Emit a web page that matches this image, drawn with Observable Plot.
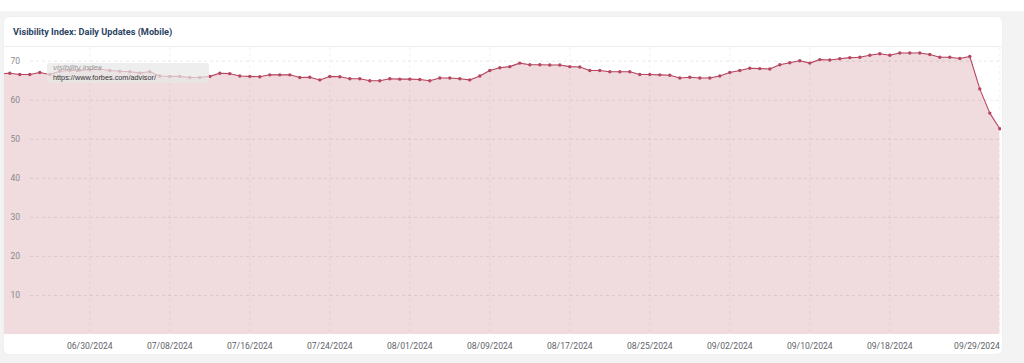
<!DOCTYPE html>
<html>
<head>
<meta charset="utf-8">
<script src="https://cdn.jsdelivr.net/npm/d3@7"></script>
<script src="https://cdn.jsdelivr.net/npm/@observablehq/plot@0.6"></script>
<style>
  html, body { margin: 0; padding: 0; width: 1024px; height: 363px; overflow: hidden; background: #ffffff; font-family: Roboto, "Noto Sans", sans-serif; }
  #page { position: absolute; left: 0; top: 11px; width: 1024px; height: 352px; background: #f3f3f4; }
  #card { position: absolute; left: 4px; top: 17px; width: 998px; height: 337px; background: #ffffff; border-radius: 5px; box-shadow: 0 0 2px rgba(0,0,0,0.06); }
  #title { position: absolute; left: 13px; top: 25px; font-size: 9.2px; font-weight: 700; color: #2d4463; line-height: 14px; white-space: nowrap; }
  #sep { position: absolute; left: 4px; top: 46px; width: 998px; height: 1px; background: #eeeeee; }
  #chart { position: absolute; left: 0; top: 0; }
  #legend { position: absolute; left: 47px; top: 63px; width: 162px; height: 20px; background: rgba(232,232,232,0.72); border-radius: 2px; }
  #legend .brand { position: absolute; left: 6px; top: 0px; font-size: 8px; font-style: italic; color: #9a9a9a; font-family: "Liberation Sans", Arial, sans-serif; }
  #legend .url { position: absolute; left: 6px; top: 10px; font-size: 7.3px; color: #333; font-family: "Liberation Sans", Arial, sans-serif; }
</style>
</head>
<body>
<div id="page"></div>
<div id="card"></div>
<div id="title">Visibility Index: Daily Updates (Mobile)</div>
<div id="sep"></div>
<div id="chart"></div>
<div id="legend"><div class="brand">visibility index</div><div class="url">https://www.forbes.com/advisor/</div></div>
<script>
// ---- data ----
const startDate = "2024-06-21";
const visibility = [
  66.8, 66.9, 66.6, 66.6, 67.1, 66.6, 67.4, 67.6, 67.7, 67.8,
  68.0, 67.6, 67.4, 67.3, 67.0, 67.3, 66.2, 66.1, 66.1, 65.8,
  65.8, 66.1, 66.9, 66.8, 66.2, 66.1, 66.0, 66.5, 66.5, 66.5,
  65.8, 65.9, 65.2, 66.1, 66.0, 65.5, 65.5, 65.0, 65.0, 65.5,
  65.4, 65.4, 65.3, 65.0, 65.7, 65.7, 65.5, 65.2, 66.2, 67.6,
  68.3, 68.6, 69.5, 69.1, 69.1, 69.0, 69.0, 68.6, 68.5, 67.6,
  67.6, 67.3, 67.3, 67.3, 66.6, 66.6, 66.5, 66.4, 65.7, 65.9,
  65.7, 65.7, 66.2, 67.1, 67.6, 68.2, 68.1, 68.0, 69.1, 69.6,
  70.1, 69.5, 70.4, 70.3, 70.6, 70.9, 71.0, 71.5, 71.9, 71.5,
  72.1, 72.1, 72.1, 71.7, 71.0, 71.0, 70.7, 71.2, 62.9, 56.7,
  52.7
];
const xTickDates = ["2024-06-30","2024-07-08","2024-07-16","2024-07-24","2024-08-01","2024-08-09",
                    "2024-08-17","2024-08-25","2024-09-02","2024-09-10","2024-09-18","2024-09-29"];
const yTicks = [10, 20, 30, 40, 50, 60, 70];

// ---- build table ----
const start = new Date(startDate + "T00:00:00Z");
const data = visibility.map((v, i) => ({date: d3.utcDay.offset(start, i), value: v}));
const ticks = xTickDates.map(s => new Date(s + "T00:00:00Z"));
const fmt = d3.utcFormat("%m/%d/%Y");

const lineColor = "#b6465f";
const fillColor = "#f0dbdf";

const chart = Plot.plot({
  width: 1024,
  height: 363,
  marginLeft: 4,
  marginRight: 23,
  marginTop: 47,
  marginBottom: 29,
  style: {background: "transparent", fontFamily: "Roboto, sans-serif"},
  x: {type: "utc", domain: [new Date("2024-06-21T11:17:00Z"), new Date("2024-09-29T04:05:00Z")], axis: null},
  y: {domain: [0, 73.5], axis: null},
  marks: [
    Plot.areaY(data, {x: "date", y: "value", fill: fillColor, clip: true}),
    Plot.ruleX(ticks, {x: d => d, stroke: "#000", strokeOpacity: 0.05, strokeDasharray: "3,3"}),
    Plot.ruleY(yTicks, {y: d => d, stroke: "#000", strokeOpacity: 0.09, strokeDasharray: "3,3", insetLeft: 26}),
    Plot.lineY(data, {x: "date", y: "value", stroke: lineColor, strokeWidth: 1.1, clip: true}),
    Plot.dot(data, {x: "date", y: "value", r: 1.7, fill: lineColor, stroke: null, clip: true}),
    Plot.text(yTicks, {y: d => d, text: d => String(d), frameAnchor: "left", textAnchor: "start", dx: 6, fontSize: 8.5, fill: "#8a8a8a"}),
    Plot.text(ticks.slice(0, -1), {x: d => d, text: d => fmt(d), frameAnchor: "bottom", dy: 12, lineAnchor: "middle", fontSize: 8.6, fill: "#5f6368"}),
    Plot.text(ticks.slice(-1), {x: d => d, text: d => fmt(d), frameAnchor: "bottom", dy: 12, textAnchor: "end", lineAnchor: "middle", fontSize: 8.6, fill: "#5f6368"})
  ]
});
document.getElementById("chart").appendChild(chart);
</script>
</body>
</html>
